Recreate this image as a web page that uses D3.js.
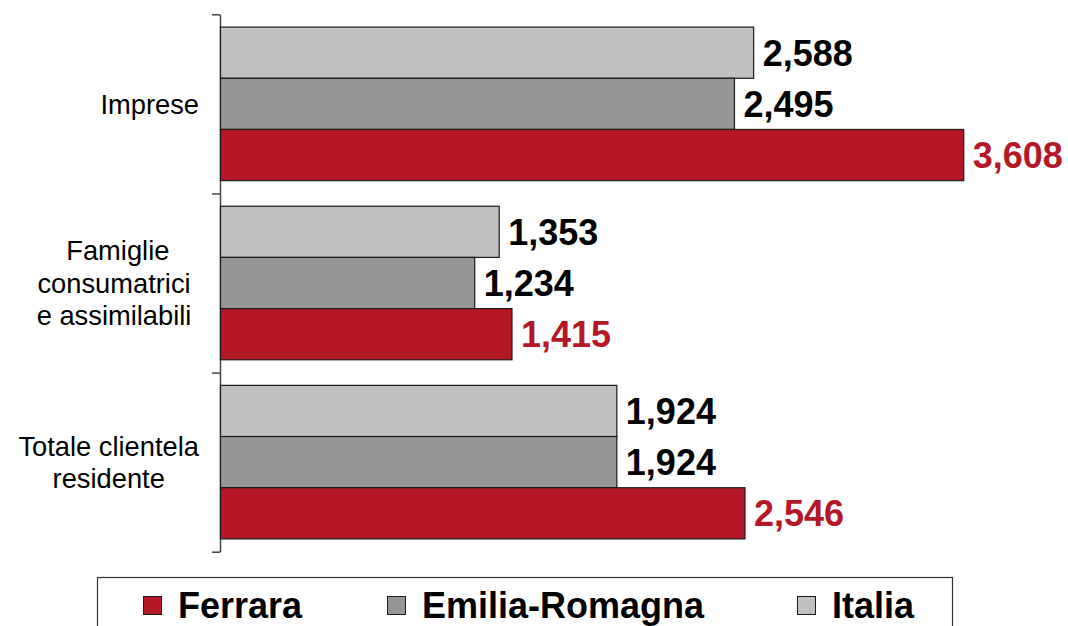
<!DOCTYPE html>
<html>
<head>
<meta charset="utf-8">
<script src="https://cdn.jsdelivr.net/npm/d3@7"></script>
<style>
  body { margin: 0; background: #fff; }
  svg { display: block; font-family: "Liberation Sans", Arial, sans-serif; }
  text.cat { white-space: pre; }
</style>
</head>
<body>
<svg width="1068" height="626"></svg>
<script>
// categories, top to bottom
var categories = ["Impresa", "Famiglie", "Totale"];
var categoryLabels = [
    ["Imprese"],
    ["Famiglie", "consumatrici ", "e assimilabili "],
    ["Totale clientela", "residente"]
];
// series, drawn top to bottom inside each group
var seriesNames = ["Italia", "Emilia-Romagna", "Ferrara"];
var italia = [2588, 1353, 1924];
var emilia = [2495, 1234, 1924];
var ferrara = [3608, 1415, 2546];
var legendOrder = ["Ferrara", "Emilia-Romagna", "Italia"];

var colors = {
    "Ferrara": "#b41826",
    "Emilia-Romagna": "#969696",
    "Italia": "#c0c0c0"
};
var labelColors = {
    "Ferrara": "#b41826",
    "Emilia-Romagna": "#000",
    "Italia": "#000"
};

var values = {
    "Italia": italia,
    "Emilia-Romagna": emilia,
    "Ferrara": ferrara
};

var svg = d3.select("svg");
var fmt = d3.format(",");

var x = d3.scaleLinear()
    .domain([0, 4000])
    .range([220.5, 1044.5]);

var yGroup = d3.scaleBand()
    .domain(categories)
    .range([14.3, 551.7])
    .padding(0);

var ySeries = d3.scaleBand()
    .domain(seriesNames)
    .range([0, yGroup.bandwidth()])
    .paddingInner(0)
    .paddingOuter(0.25);

// axis with ticks at group boundaries
var yEdges = d3.scaleLinear()
    .domain([0, categories.length])
    .range([14.3, 551.7]);

var axis = svg.append("g")
    .attr("transform", "translate(220,0)")
    .call(d3.axisLeft(yEdges)
        .tickValues(d3.range(categories.length + 1))
        .tickFormat("")
        .tickSizeOuter(0)
        .tickSizeInner(8));
axis.select(".domain").attr("stroke", "#444").attr("stroke-width", 1.5);
axis.selectAll(".tick line").attr("stroke", "#444").attr("stroke-width", 1.5);

var rows = [];
categories.forEach(function (c, i) {
    seriesNames.forEach(function (s) {
        rows.push({ cat: c, series: s, value: values[s][i] });
    });
});

var groups = svg.append("g");

groups.selectAll("rect.bar")
    .data(rows).enter()
    .append("rect")
    .attr("class", "bar")
    .attr("x", x(0))
    .attr("y", function (d) { return yGroup(d.cat) + ySeries(d.series); })
    .attr("width", function (d) { return x(d.value) - x(0); })
    .attr("height", ySeries.bandwidth())
    .attr("fill", function (d) { return colors[d.series]; })
    .attr("stroke", "#1a1a1a")
    .attr("stroke-width", 1.2);

groups.selectAll("text.val")
    .data(rows).enter()
    .append("text")
    .attr("class", "val")
    .attr("x", function (d) { return x(d.value) + 9; })
    .attr("y", function (d) { return yGroup(d.cat) + ySeries(d.series) + ySeries.bandwidth() / 2 + 13; })
    .attr("font-size", 36)
    .attr("font-weight", "bold")
    .attr("fill", function (d) { return labelColors[d.series]; })
    .text(function (d) { return fmt(d.value); });

// category labels: centred lines, block right-aligned at 199
var lineH = 32.5;
categories.forEach(function (c, i) {
    var lines = categoryLabels[i];
    var cy = yGroup(c) + yGroup.bandwidth() / 2;
    var t = svg.append("text")
        .attr("class", "cat")
        .attr("font-size", 27.3)
        .attr("text-anchor", "middle")
        .attr("fill", "#000");
    lines.forEach(function (l, j) {
        t.append("tspan")
            .attr("y", cy + 9.7 + (j - (lines.length - 1) / 2) * lineH)
            .text(l);
    });
    var maxW = 0;
    t.selectAll("tspan").each(function () {
        maxW = Math.max(maxW, this.getComputedTextLength());
    });
    t.selectAll("tspan").attr("x", 199 - maxW / 2);
});

// legend
var legend = svg.append("g");
legend.append("rect")
    .attr("x", 97.5)
    .attr("y", 577.5)
    .attr("width", 855)
    .attr("height", 80)
    .attr("fill", "#fff")
    .attr("stroke", "#333")
    .attr("stroke-width", 1.2);

var legendX = d3.scaleOrdinal()
    .domain(legendOrder)
    .range([143, 387, 797]);

var items = legend.selectAll("g.item")
    .data(legendOrder).enter()
    .append("g")
    .attr("class", "item")
    .attr("transform", function (d) { return "translate(" + legendX(d) + ",0)"; });

items.append("rect")
    .attr("x", 0.5)
    .attr("y", 596.5)
    .attr("width", 18)
    .attr("height", 18)
    .attr("fill", function (d) { return colors[d]; })
    .attr("stroke", "#1a1a1a")
    .attr("stroke-width", 1);

items.append("text")
    .attr("x", 35)
    .attr("y", 618)
    .attr("font-size", 36)
    .attr("font-weight", "bold")
    .attr("fill", "#000")
    .text(function (d) { return d; });
</script>
</body>
</html>
